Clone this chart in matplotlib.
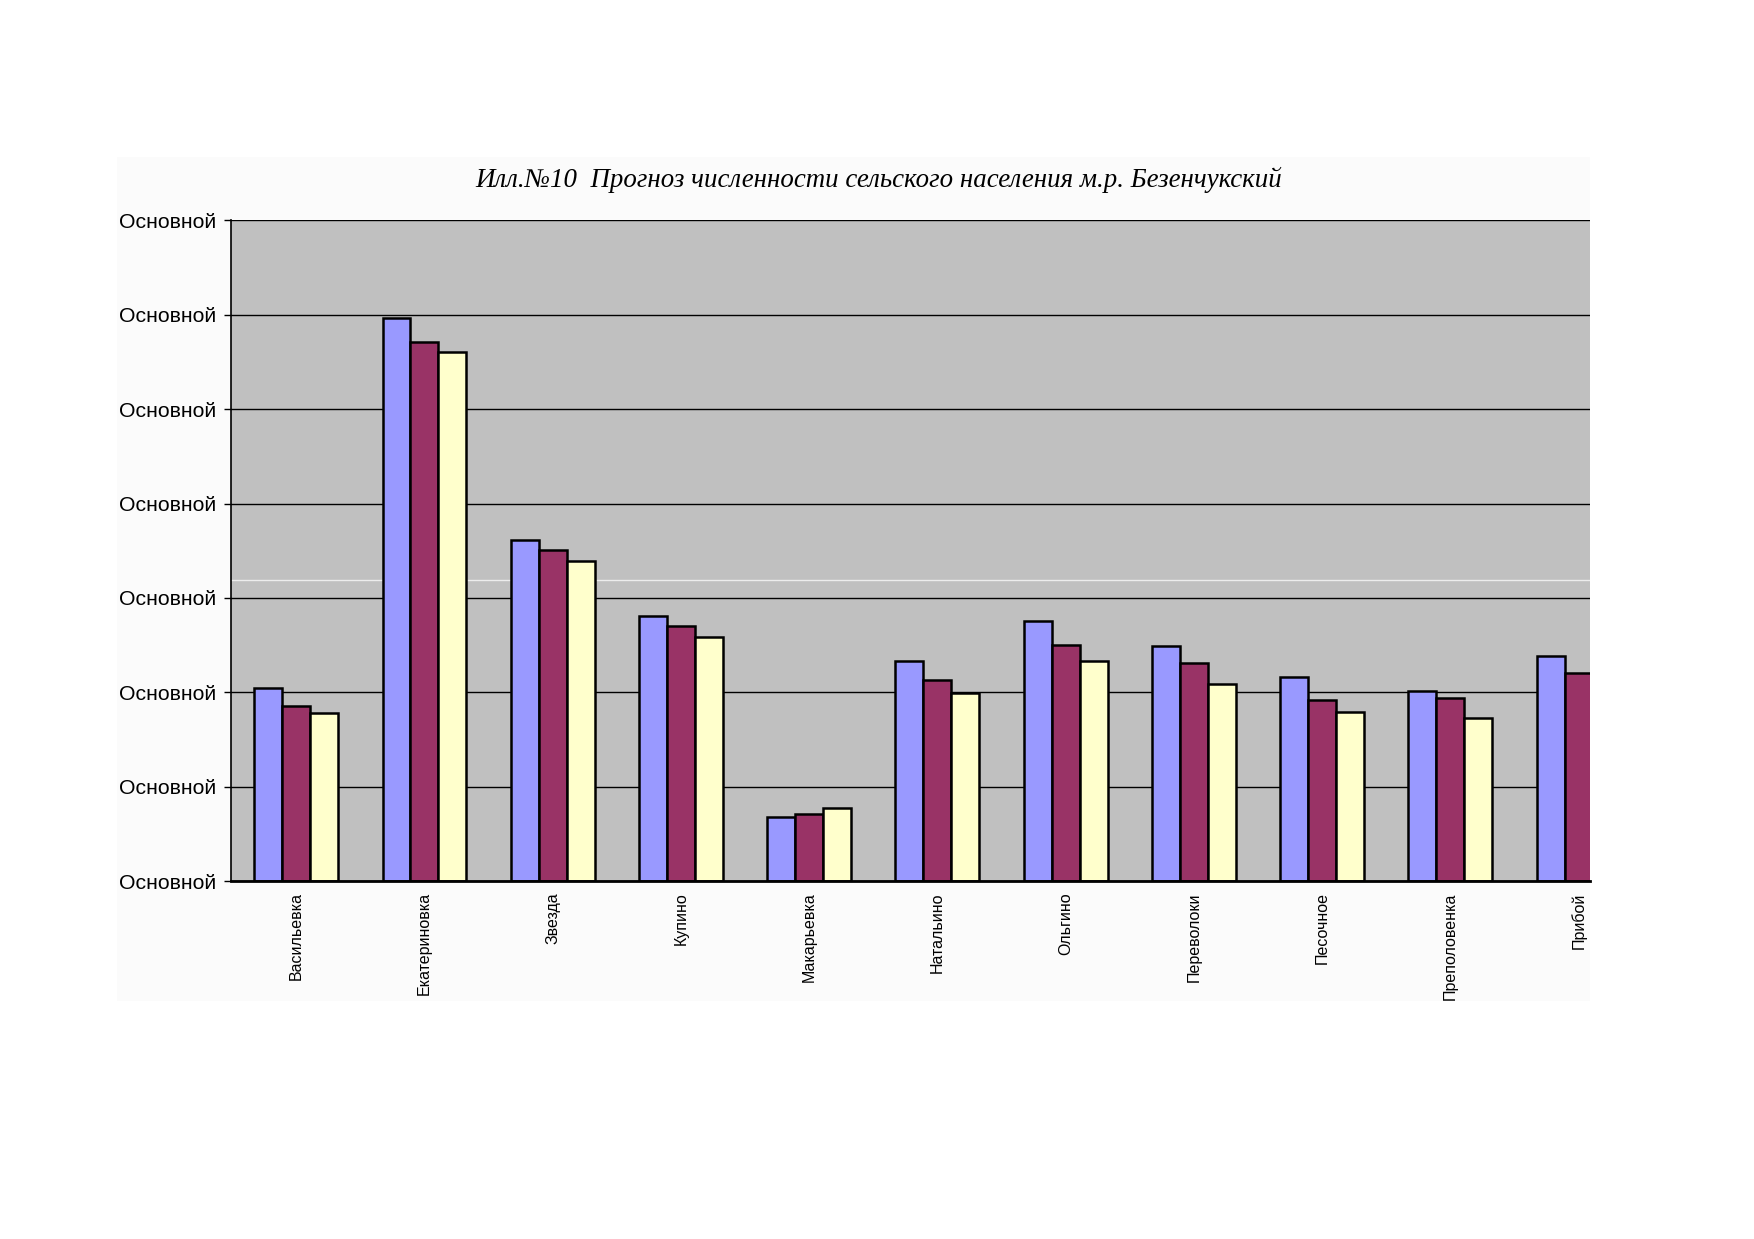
#!/usr/bin/env python3
import numpy as np
import matplotlib
matplotlib.use('Agg')
import matplotlib.pyplot as plt
from matplotlib.patches import Rectangle

### Data (in grid units)
villages = ['Васильевка', 'Екатериновка', 'Звезда', 'Купино', 'Макарьевка',
            'Натальино', 'Ольгино', 'Переволоки', 'Песочное', 'Преполовенка', 'Прибой']
series_1 = [2.05, 5.97, 3.61, 2.81, 0.68, 2.33, 2.76, 2.49, 2.16, 2.01, 2.38]
series_2 = [1.86, 5.71, 3.51, 2.70, 0.71, 2.13, 2.50, 2.31, 1.92, 1.94, 2.20]
series_3 = [1.78, 5.60, 3.39, 2.59, 0.78, 1.99, 2.33, 2.09, 1.79, 1.73, 2.05]
y_ticks  = [0, 1, 2, 3, 4, 5, 6, 7]
y_tick_labels = ['Основной'] * len(y_ticks)
title = 'Илл.№10  Прогноз численности сельского населения м.р. Безенчукский'

colors = ['#9999FF', '#993366', '#FFFFCC']

fig = plt.figure(figsize=(17.54, 12.39), dpi=100)
fig.patch.set_facecolor('white')

# light chart-area background
fig.patches.append(Rectangle((0.0669, 0.1922), 0.9063 - 0.0669, 0.8736 - 0.1922,
                             transform=fig.transFigure, facecolor='#FBFBFB',
                             edgecolor='none', zorder=-1))

ax = fig.add_axes([0.1319, 0.2888, 0.9063 - 0.1319, 0.8222 - 0.2888])
ax.set_facecolor('#C0C0C0')

x = np.arange(len(villages))
w = 0.218
for i, vals in enumerate([series_1, series_2, series_3]):
    ax.bar(x + (i - 1) * w, vals, width=w, color=colors[i],
           edgecolor='black', linewidth=1.8, zorder=3)

ax.set_ylim(0, 7)
ax.set_xlim(-0.506, 10.087)
ax.set_yticks(y_ticks)
ax.set_yticklabels(y_tick_labels, fontsize=15.3, family='Liberation Sans')
ax.yaxis.grid(True, color='black', linewidth=1.0, zorder=1)
ax.set_axisbelow(True)
ax.tick_params(axis='y', length=5, width=1, pad=6)

ax.set_xticks(x)
ax.set_xticklabels(villages, rotation=90, fontsize=11.5, family='Liberation Sans')
ax.tick_params(axis='x', length=0, pad=8)

for side in ['top', 'right']:
    ax.spines[side].set_visible(False)
ax.spines['left'].set_linewidth(1.2)
ax.spines['bottom'].set_linewidth(2.0)
ax.spines['bottom'].set_zorder(4)

# faint scan line across the plot
ax.axhline(3.19, color='#EDEDED', linewidth=1.0, zorder=2)

fig.text(0.501, 0.8547, title, ha='center', va='center', fontsize=19.4,
         family='Liberation Serif', style='italic')

plt.savefig('out.png', dpi=100)
